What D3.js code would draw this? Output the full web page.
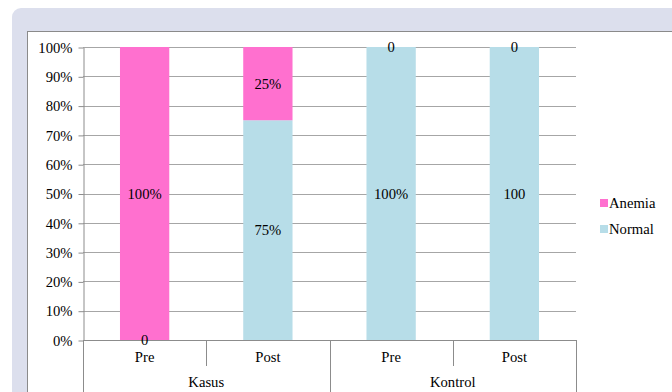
<!DOCTYPE html>
<html><head><meta charset="utf-8">
<script src="https://cdn.jsdelivr.net/npm/d3@7"></script>
<style>
html,body{margin:0;padding:0;background:#fff;}
svg{display:block;}
svg text{font-family:'Liberation Serif','Times New Roman',serif !important;}
</style></head><body>
<svg id="c" width="672" height="392"></svg>
<script>
const groups = ["Kasus","Kontrol"];
const categories = ["Pre","Post","Pre","Post"];
const categoryGroup = ["Kasus","Kasus","Kontrol","Kontrol"];
const seriesNames = ["Normal","Anemia"];
const normalValues = [0, 75, 100, 100];
const anemiaValues = [100, 25, 0, 0];
const normalLabels = ["0","75%","100%","100"];
const anemiaLabels = ["100%","25%","0","0"];
const yTicks = [0,10,20,30,40,50,60,70,80,90,100];
const colors = {Anemia:"#ff70cf", Normal:"#b7dde8"};
const FONT = "Liberation Serif";
const FS = 14.67;

const svg = d3.select("#c");
// frame
svg.append("rect").attr("x",12).attr("y",8).attr("width",700).attr("height",420).attr("rx",9).attr("fill","#dcdfed");
svg.append("rect").attr("x",27.5).attr("y",31.5).attr("width",660).attr("height",400).attr("fill","#fff").attr("stroke","#8a8a8a").attr("stroke-width",1);

const L=83, R=576, T=47, B=340;
const x = d3.scaleBand().domain(d3.range(categories.length)).range([L,R]).paddingInner(0.6).paddingOuter(0.3);
const xb = d3.scaleBand().domain(d3.range(categories.length)).range([L,R]);
const y = d3.scaleLinear().domain([0,100]).range([B,T]);

// gridlines
svg.append("g").selectAll("line").data(yTicks.slice(1)).join("line")
  .attr("x1",L).attr("x2",R).attr("y1",d=>Math.round(y(d))+0.5).attr("y2",d=>Math.round(y(d))+0.5)
  .attr("stroke","#a6a6a6").attr("stroke-width",1);

// y axis
const yAxis = d3.axisLeft(y).tickValues(yTicks).tickFormat(d=>d+"%").tickSize(5).tickSizeOuter(0);
const ga = svg.append("g").attr("transform",`translate(${L+0.5},0.5)`).call(yAxis)
  .attr("font-family",FONT).attr("font-size",FS);
ga.select(".domain").attr("stroke","#8c8c8c");
ga.selectAll(".tick line").attr("stroke","#8c8c8c");
ga.selectAll(".tick text").attr("fill","#000").attr("x",-11);

// stacked bars
const rows = categories.map((c,i)=>({i, Normal:normalValues[i], Anemia:anemiaValues[i]}));
const stack = d3.stack().keys(seriesNames)(rows);
svg.append("g").selectAll("g").data(stack).join("g").attr("fill",d=>colors[d.key])
  .selectAll("rect").data(d=>d).join("rect")
  .attr("x",d=>x(d.data.i)).attr("width",x.bandwidth())
  .attr("y",d=>y(d[1])).attr("height",d=>y(d[0])-y(d[1]));

// x axis line
svg.append("line").attr("x1",L).attr("x2",R).attr("y1",B+0.5).attr("y2",B+0.5).attr("stroke","#8c8c8c");
// category separators
const sepX = [L, xb(1), xb(2), xb(3), R];
const sepLong = [true,false,true,false,true];
svg.append("g").selectAll("line").data(sepX).join("line")
  .attr("x1",d=>Math.round(d)+0.5).attr("x2",d=>Math.round(d)+0.5)
  .attr("y1",B).attr("y2",(d,i)=>sepLong[i]?392:366)
  .attr("stroke","#8c8c8c");

const T1 = svg.append("g").attr("font-family",FONT).attr("font-size",FS).attr("fill","#000");
// category labels
T1.append("g").selectAll("text").data(categories).join("text")
  .attr("x",(d,i)=>xb(i)+xb.bandwidth()/2).attr("y",362).attr("text-anchor","middle")
  .text(d=>d);
// group labels
T1.append("g").selectAll("text").data(groups).join("text")
  .attr("x",g=>{const idx=d3.range(categories.length).filter(i=>categoryGroup[i]===g);return (xb(idx[0])+xb(idx[idx.length-1])+xb.bandwidth())/2;})
  .attr("y",387).attr("text-anchor","middle").text(d=>d);

// data labels
const labelSets = {Normal:normalLabels, Anemia:anemiaLabels};
stack.forEach(s=>{
  T1.append("g").selectAll("text").data(s).join("text")
    .attr("x",d=>x(d.data.i)+x.bandwidth()/2)
    .attr("y",d=>(y(d[0])+y(d[1]))/2+5)
    .attr("text-anchor","middle")
    .text((d,i)=>labelSets[s.key][i]);
});

// legend
["Anemia","Normal"].forEach((k,i)=>{
  const ly = 203 + i*26;
  T1.append("rect").attr("x",600).attr("y",ly-4).attr("width",8).attr("height",8).attr("fill",colors[k]);
  T1.append("text").attr("x",609).attr("y",ly+5).text(k);
});
</script>
</body></html>
